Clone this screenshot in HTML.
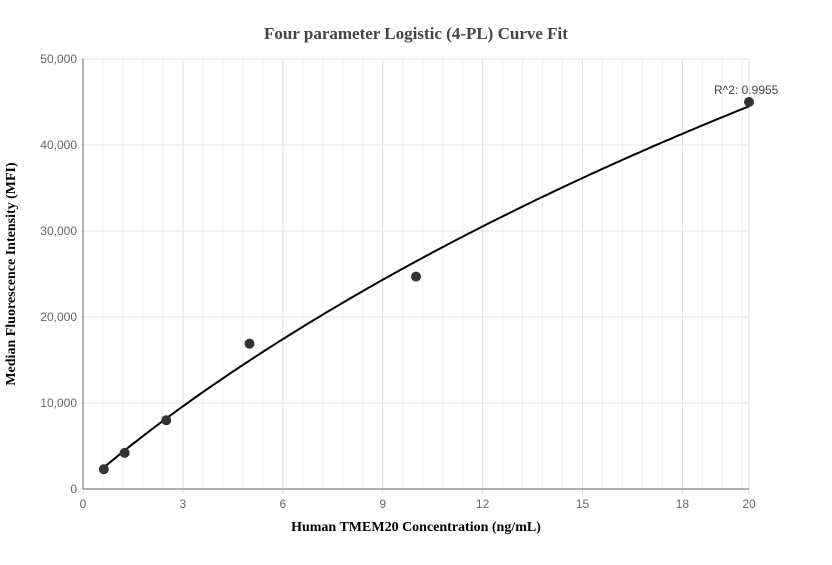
<!DOCTYPE html>
<html><head><meta charset="utf-8"><style>
body{margin:0;background:#fff;width:832px;height:560px;overflow:hidden}
svg{font-family:"Liberation Sans",sans-serif}
</style></head><body>
<svg id="chart" width="832" height="560" xmlns="http://www.w3.org/2000/svg">
<text x="416" y="39" text-anchor="middle" font-family="Liberation Serif,serif" font-weight="bold" font-size="17" fill="#444">Four parameter Logistic (4-PL) Curve Fit</text>
<text x="416" y="531" text-anchor="middle" font-family="Liberation Serif,serif" font-weight="bold" font-size="14" fill="#000">Human TMEM20 Concentration (ng/mL)</text>
<text transform="translate(15,274) rotate(-90)" text-anchor="middle" font-family="Liberation Serif,serif" font-weight="bold" font-size="14" fill="#000">Median Fluorescence Intensity (MFI)</text>
<g id="grid"></g><g id="axes"></g><g id="marks"></g>
</svg>
<script>
const xTicks=[0,3,6,9,12,15,18,20];
const yTicks=[0,10000,20000,30000,40000,50000];
const concentrations=[0.625,1.25,2.5,5,10,20];
const mfiValues=[2300,4200,8000,16900,24700,45000];
const fitParams=[300,0.95,60,170000]; // a,b,c,d
const rSquared="R^2: 0.9955";
const X0=83,X1=749,Y0=489,Y1=59;
const sx=v=>X0+(v/20)*(X1-X0);
const sy=v=>Y0-(v/50000)*(Y0-Y1);
const NS="http://www.w3.org/2000/svg";
function mk(t,p,a){const e=document.createElementNS(NS,t);for(const k in a)e.setAttribute(k,a[k]);p.appendChild(e);return e;}
const grid=document.getElementById('grid'),axes=document.getElementById('axes'),marks=document.getElementById('marks');
for(let v=0.6;v<20;v+=0.6){const l=mk('line',grid,{x1:sx(v),x2:sx(v),y1:Y1,y2:Y0,stroke:'#f0f0f0'});

}
xTicks.forEach(t=>{const l=mk('line',grid,{x1:sx(t),x2:sx(t),y1:Y1,y2:Y0+5,stroke:'#e0e0e0'});


const tx=mk('text',axes,{x:sx(t),y:Y0+19,'text-anchor':'middle','font-size':12,fill:'#666'});tx.textContent=t;

});
yTicks.forEach(t=>{const l=mk('line',grid,{x1:X0-5,x2:X1,y1:sy(t),y2:sy(t),stroke:'#e6e6e6'});


const tx=mk('text',axes,{x:X0-6,y:sy(t)+4,'text-anchor':'end','font-size':12,fill:'#666'});tx.textContent=t.toLocaleString('en-US');

});
const xa=mk('line',axes,{x1:X0,x2:X1,y1:Y0,y2:Y0,stroke:'#666'});


const ya=mk('line',axes,{x1:X0,x2:X0,y1:Y1,y2:Y0,stroke:'#666'});


const [a,b,c,d]=fitParams;const f=x=>d+(a-d)/(1+Math.pow(x/c,b));
let pts=[];const xs=concentrations[0],xe=concentrations[concentrations.length-1];
for(let i=0;i<=200;i++){const x=xs+(xe-xs)*i/200;pts.push(sx(x).toFixed(1)+','+sy(f(x)).toFixed(1));}
const curve=mk('polyline',marks,{points:pts.join(' '),fill:'none',stroke:'#000','stroke-width':2});


concentrations.forEach((x,i)=>{const p=mk('circle',marks,{cx:sx(x),cy:sy(mfiValues[i]),r:5,fill:'#333'});

});
const r=mk('text',marks,{x:sx(xe)-35,y:sy(mfiValues[mfiValues.length-1])-8,'font-size':12,fill:'#444'});r.textContent=rSquared;


</script>
</body></html>
